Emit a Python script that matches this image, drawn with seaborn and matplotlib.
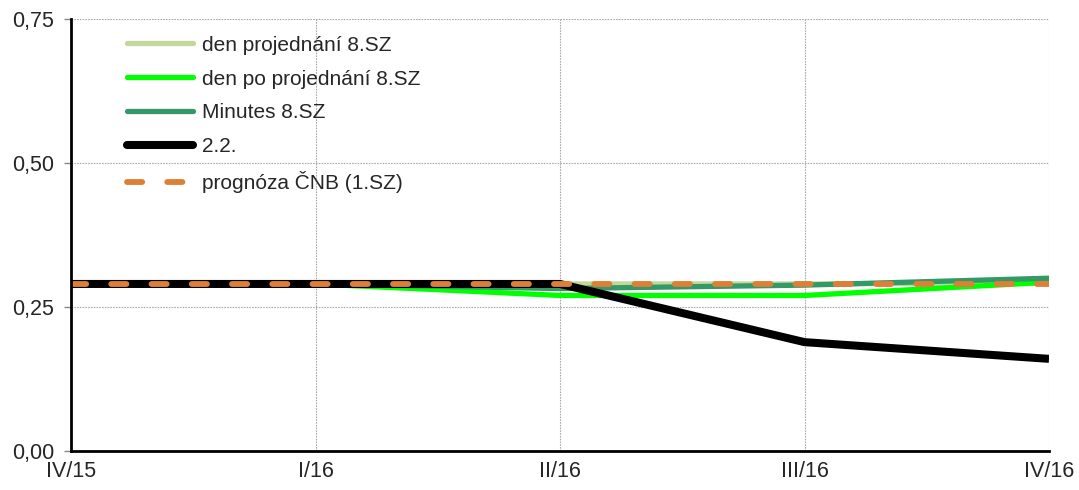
import matplotlib
matplotlib.use("Agg")
import matplotlib.pyplot as plt
import seaborn as sns
import pandas as pd
from matplotlib.ticker import FuncFormatter

quarters = ["IV/15", "I/16", "II/16", "III/16", "IV/16"]
den_projednani = [0.29, 0.29, 0.29, 0.29, 0.292]
den_po_projednani = [0.29, 0.29, 0.27, 0.27, 0.293]
minutes = [0.29, 0.29, 0.282, 0.288, 0.30]
feb2 = [0.29, 0.29, 0.29, 0.189, 0.16]
prognoza = [0.29, 0.29, 0.29, 0.29, 0.29]

series = [
    ("den projednání 8.SZ", den_projednani, "#c3d69b", 3.8, "-"),
    ("den po projednání 8.SZ", den_po_projednani, "#00ff00", 3.8, "-"),
    ("Minutes 8.SZ", minutes, "#339966", 3.8, "-"),
    ("2.2.", feb2, "#000000", 5.8, "-"),
    ("prognóza ČNB (1.SZ)", prognoza, "#dd7f36", 4.2, "--"),
]

sns.set_style("white")
plt.rcParams["font.family"] = ["Liberation Sans", "DejaVu Sans"]

fig = plt.figure(figsize=(10.79, 4.9), dpi=100)
ax = fig.add_axes([71 / 1079, 39 / 490, (1049 - 71) / 1079, (451 - 19) / 490])

x = list(range(len(quarters)))
for i, (name, vals, color, lw, ls) in enumerate(series):
    df = pd.DataFrame({"x": x, "y": vals})
    sns.lineplot(data=df, x="x", y="y", ax=ax, color=color, linewidth=lw,
                 label=name, zorder=3 + i)
    line = ax.get_lines()[-1]
    if ls == "--":
        line.set_dashes((2.6, 4.3))
        line.set_dash_capstyle("round")
    else:
        line.set_solid_capstyle("butt")

ax.set_xlim(0, 4)
ax.set_ylim(0, 0.75)
ax.set_xticks(x)
ax.set_xticklabels(quarters)
ax.set_yticks([0, 0.25, 0.5, 0.75])
ax.yaxis.set_major_formatter(FuncFormatter(lambda v, p: f"{v:.2f}".replace(".", ",")))
ax.set_xlabel("")
ax.set_ylabel("")

ax.grid(True, color="#aaaaaa", linestyle=(0, (1.5, 1.0)), linewidth=0.8, zorder=0)
ax.set_axisbelow(True)
for s in ["top", "right"]:
    ax.spines[s].set_visible(False)
for s in ["left", "bottom"]:
    ax.spines[s].set_color("black")
    ax.spines[s].set_linewidth(2.0)
    ax.spines[s].set_zorder(10)

ax.tick_params(axis="y", length=5, color="#888888", width=1, labelsize=15.5, pad=7, left=True)
ax.tick_params(axis="x", length=0, labelsize=15.5, pad=7, bottom=True)

leg = ax.legend(loc="upper left", frameon=False, fontsize=15, handlelength=3.2,
                handletextpad=0.4, labelspacing=0.71, bbox_to_anchor=(0.042, 0.995),
                borderaxespad=0.3)
for h in leg.get_lines():
    if h.get_linestyle() == "-":
        h.set_solid_capstyle("round")

fig.savefig("out.png", dpi=100)
